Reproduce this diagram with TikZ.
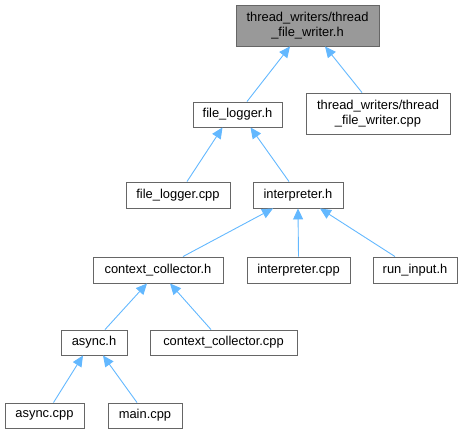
\documentclass[tikz,border=0pt]{standalone}
\usepackage{fontspec}
\setmainfont{Liberation Sans}
\usetikzlibrary{arrows.meta}
\definecolor{Edge}{HTML}{63B8FF}
\definecolor{Frame}{HTML}{666666}
\definecolor{Current}{HTML}{999999}

\begin{document}
\begin{tikzpicture}[x=1pt,y=-1pt,
    file/.style={draw=Frame,line width=0.9pt,fill=white,inner sep=0pt,align=center,
      font=\fontsize{12.9}{15}\selectfont},
    dep/.style={draw=Edge,line width=0.9pt,-{Triangle[length=11pt,width=10pt]}}]
    \useasboundingbox (0,0) rectangle (463,435);
    \node[file,fill=Current,minimum width=143pt,minimum height=41pt] (twh) at (307.5,25.5) {thread\_writers/thread\\\_file\_writer.h};
    \node[file,minimum width=144pt,minimum height=41pt] (twc) at (378,113.5) {thread\_writers/thread\\\_file\_writer.cpp};
    \node[file,minimum width=89pt,minimum height=25pt] (flh) at (237.5,114.5) {file\_logger.h};
    \node[file,minimum width=104pt,minimum height=26pt] (flc) at (178,195) {file\_logger.cpp};
    \node[file,minimum width=90pt,minimum height=26pt] (inh) at (298,195) {interpreter.h};
    \node[file,minimum width=130pt,minimum height=26pt] (cch) at (158,270) {context\_collector.h};
    \node[file,minimum width=103pt,minimum height=26pt] (inc) at (298.5,270) {interpreter.cpp};
    \node[file,minimum width=84pt,minimum height=26pt] (rin) at (415,270) {run\_input.h};
    \node[file,minimum width=66pt,minimum height=25pt] (ash) at (94,342.5) {async.h};
    \node[file,minimum width=147pt,minimum height=25pt] (ccc) at (223.5,342.5) {context\_collector.cpp};
    \node[file,minimum width=79pt,minimum height=25pt] (asc) at (44.5,415.5) {async.cpp};
    \node[file,minimum width=74pt,minimum height=25pt] (mnc) at (145,415.5) {main.cpp};
    \foreach \from/\fx/\to/\tx in {flh/9.5/twh/-17.5, twc/-16/twh/17.5, flc/9/flh/-15,
        inh/-9/flh/13, cch/25/inh/-25, inc/0/inh/0, rin/-20/inh/22,
        ash/11/cch/-11, ccc/-12.5/cch/12, asc/9/ash/-11, mnc/-8/ash/9}{
      \draw[dep] ([xshift=\fx pt]\from.north) -- ([xshift=\tx pt]\to.south);
    }
  \end{tikzpicture}
\end{document}
